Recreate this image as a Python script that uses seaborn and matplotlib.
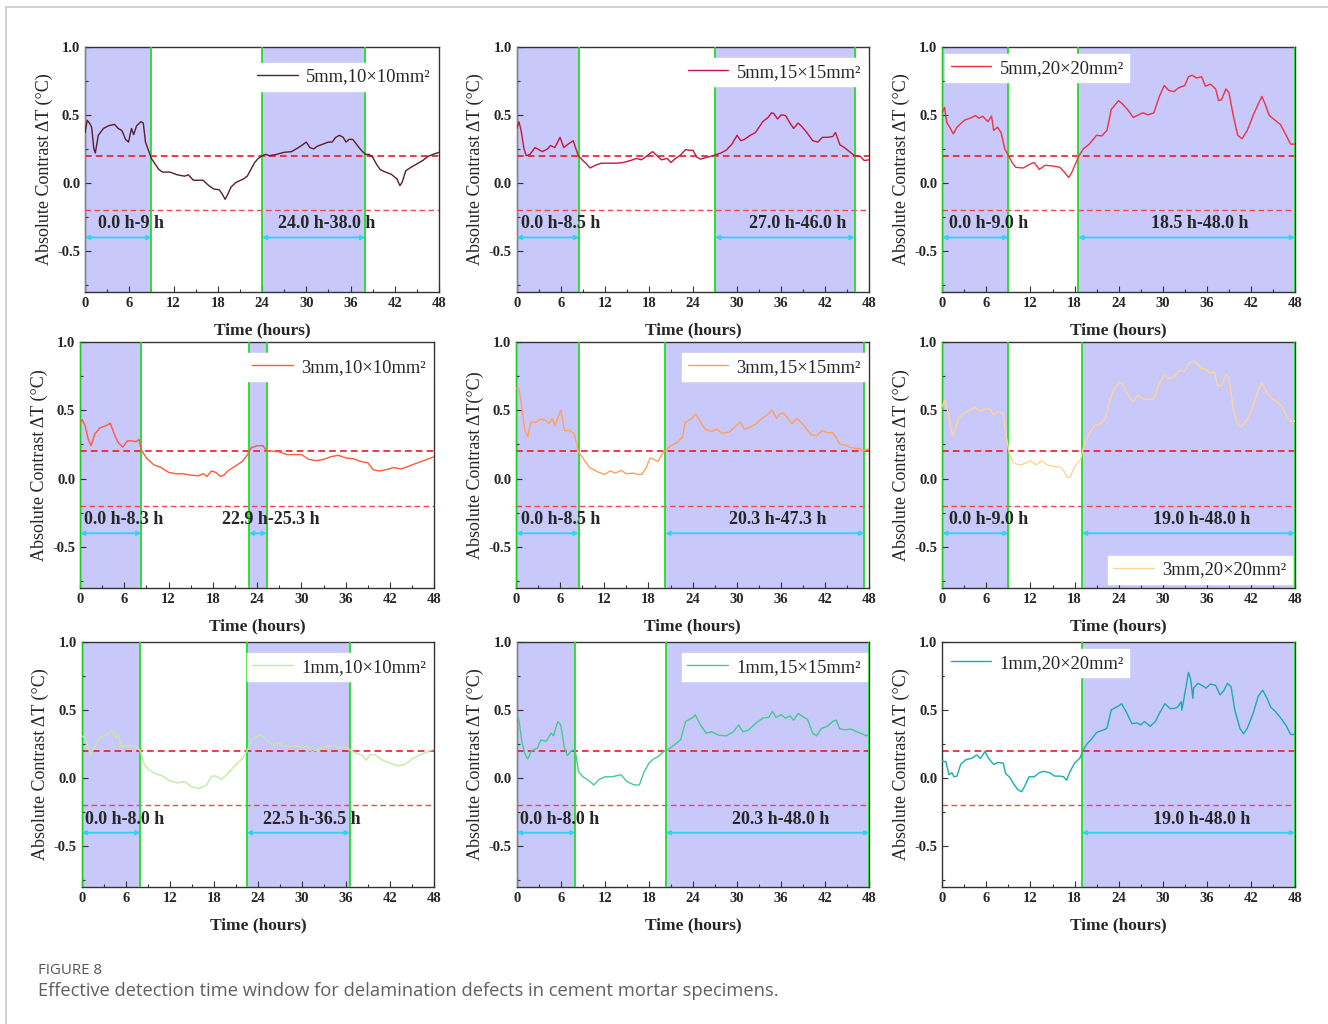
import numpy as np
import pandas as pd
import matplotlib
matplotlib.use("Agg")
import matplotlib.pyplot as plt
from matplotlib.lines import Line2D
from matplotlib.ticker import MultipleLocator, FixedLocator
import seaborn as sns

# ---------------------------------------------------------------- data
names = ["5mm,10\u00d710mm\u00b2", "5mm,15\u00d715mm\u00b2", "5mm,20\u00d720mm\u00b2",
         "3mm,10\u00d710mm\u00b2", "3mm,15\u00d715mm\u00b2", "3mm,20\u00d720mm\u00b2",
         "1mm,10\u00d710mm\u00b2", "1mm,15\u00d715mm\u00b2", "1mm,20\u00d720mm\u00b2"]

t_5_10 = [0, 0.3, 0.6, 0.9, 1.2, 1.4, 1.8, 2.5, 3.2, 4.0, 4.5, 5.0, 5.5, 5.9, 6.3, 6.6, 7.0, 7.6, 7.9, 8.2,
          8.6, 9.0, 9.5, 10, 10.5, 11.5, 12.5, 13.5, 14, 14.7, 15.5, 16, 16.8, 17.5, 18.2, 18.6, 19.0, 19.3,
          19.8, 20.5, 21.5, 22, 22.5, 23, 23.5, 24.0, 24.5, 25, 26, 27, 28, 28.8, 29.5, 30, 30.5, 31, 31.5,
          32, 32.5, 33, 33.5, 34, 34.5, 35, 35.4, 35.8, 36.3, 36.8, 37.3, 38, 38.5, 39, 39.5, 40, 40.5,
          41.5, 42.3, 42.7, 43.0, 43.5, 44.2, 45, 45.8, 46.5, 47.2, 48]
v_5_10 = [0.37, 0.46, 0.44, 0.41, 0.25, 0.22, 0.35, 0.40, 0.42, 0.43, 0.40, 0.385, 0.32, 0.30, 0.40, 0.355,
          0.42, 0.45, 0.44, 0.30, 0.24, 0.18, 0.14, 0.10, 0.08, 0.08, 0.06, 0.05, 0.06, 0.02, 0.02, 0.02,
          -0.02, -0.045, -0.05, -0.08, -0.12, -0.09, -0.03, 0.005, 0.03, 0.05, 0.10, 0.15, 0.18, 0.20, 0.21,
          0.20, 0.21, 0.225, 0.23, 0.255, 0.28, 0.30, 0.26, 0.25, 0.27, 0.28, 0.29, 0.30, 0.30, 0.335, 0.35,
          0.335, 0.30, 0.32, 0.32, 0.285, 0.25, 0.21, 0.21, 0.19, 0.14, 0.10, 0.085, 0.065, 0.03, -0.02,
          0.005, 0.09, 0.115, 0.14, 0.165, 0.195, 0.21, 0.225]

t_5_15 = [0, 0.3, 0.6, 1.0, 1.3, 1.8, 2.5, 3.5, 4.2, 4.6, 5.2, 5.9, 6.4, 7.0, 7.7, 8.0, 8.4, 9.0, 9.5, 10,
          10.7, 11.5, 12.5, 13.5, 14.5, 15.5, 16.3, 17, 18, 18.5, 19, 19.7, 20.5, 21, 21.5, 22.3, 23, 23.5,
          24, 24.5, 25, 26, 27, 27.8, 28.5, 29.3, 30, 30.5, 31, 31.8, 32.5, 33, 33.5, 34.2, 34.7, 35.0,
          35.5, 36.0, 36.6, 37.2, 37.7, 38.3, 38.8, 39.5, 40.3, 41, 41.6, 42.3, 43, 43.4, 44, 44.6, 45.3,
          46, 46.8, 47.3, 48]
v_5_15 = [0.40, 0.45, 0.385, 0.25, 0.20, 0.21, 0.26, 0.23, 0.25, 0.275, 0.26, 0.335, 0.26, 0.285, 0.31,
          0.26, 0.20, 0.165, 0.14, 0.11, 0.13, 0.145, 0.145, 0.145, 0.15, 0.165, 0.18, 0.17, 0.21, 0.23,
          0.205, 0.17, 0.18, 0.15, 0.175, 0.205, 0.245, 0.24, 0.24, 0.19, 0.175, 0.19, 0.205, 0.22, 0.24,
          0.285, 0.35, 0.31, 0.32, 0.35, 0.37, 0.41, 0.45, 0.48, 0.515, 0.51, 0.47, 0.50, 0.495, 0.44, 0.40,
          0.44, 0.415, 0.37, 0.31, 0.30, 0.335, 0.335, 0.34, 0.37, 0.28, 0.26, 0.23, 0.20, 0.195, 0.165, 0.17]

t_5_20 = [0, 0.3, 0.6, 1.0, 1.5, 2, 3, 4, 4.5, 5.0, 5.5, 6.2, 6.7, 7.0, 7.5, 8.0, 8.5, 9.0, 9.5, 10, 11,
          12, 12.5, 13.2, 14, 15, 16, 16.6, 17.2, 17.6, 18.2, 18.6, 19.2, 20, 21, 21.7, 22.4, 23, 24, 24.5,
          25.2, 26, 26.5, 27.3, 28, 28.8, 29.5, 30.2, 30.8, 31.5, 32.2, 33, 33.5, 34, 34.6, 35.3, 35.8,
          36.5, 37.2, 37.6, 38, 38.6, 39.0, 39.6, 40.2, 40.8, 41.5, 42.3, 43.0, 43.5, 44.0, 44.5, 45.3, 46,
          46.8, 47.4, 48]
v_5_20 = [0.52, 0.555, 0.445, 0.41, 0.36, 0.41, 0.46, 0.48, 0.495, 0.475, 0.49, 0.45, 0.49, 0.385, 0.41,
          0.37, 0.25, 0.20, 0.15, 0.115, 0.11, 0.14, 0.15, 0.10, 0.13, 0.125, 0.115, 0.08, 0.04, 0.075, 0.15,
          0.20, 0.25, 0.285, 0.35, 0.345, 0.385, 0.54, 0.605, 0.58, 0.54, 0.48, 0.495, 0.515, 0.50, 0.515,
          0.63, 0.715, 0.68, 0.67, 0.70, 0.715, 0.78, 0.79, 0.77, 0.78, 0.71, 0.725, 0.69, 0.605, 0.61, 0.69,
          0.665, 0.495, 0.35, 0.325, 0.385, 0.495, 0.58, 0.635, 0.57, 0.495, 0.46, 0.43, 0.35, 0.285, 0.285]

t_3_10 = [0, 0.3, 0.7, 1.1, 1.5, 2, 2.7, 3.5, 4.1, 4.6, 5.2, 5.8, 6.4, 7.0, 7.6, 8.0, 8.3, 9, 10, 11, 12,
          13, 14, 15, 16, 16.7, 17.2, 17.8, 18.4, 19.0, 19.5, 20, 21, 22, 22.7, 23.2, 24, 24.8, 25.3, 26,
          27, 28, 29, 30, 31, 32, 33, 34, 35, 36, 37, 38, 39, 39.7, 40.5, 41.5, 42.5, 43.5, 44.3, 45, 46,
          47, 48]
v_3_10 = [0.41, 0.43, 0.385, 0.29, 0.24, 0.325, 0.37, 0.385, 0.405, 0.33, 0.26, 0.23, 0.275, 0.275, 0.27,
          0.285, 0.21, 0.15, 0.10, 0.08, 0.045, 0.035, 0.035, 0.025, 0.02, 0.035, 0.015, 0.055, 0.045, 0.015,
          0.025, 0.055, 0.09, 0.125, 0.175, 0.225, 0.24, 0.24, 0.20, 0.20, 0.195, 0.175, 0.175, 0.175, 0.14,
          0.13, 0.14, 0.16, 0.17, 0.15, 0.145, 0.125, 0.115, 0.065, 0.055, 0.065, 0.08, 0.07, 0.085, 0.10,
          0.12, 0.14, 0.16]

t_3_15 = [0, 0.4, 0.8, 1.2, 1.6, 2.0, 2.8, 3.5, 4.2, 4.5, 4.9, 5.3, 5.7, 6.1, 6.6, 7.3, 7.9, 8.5, 9.2, 10,
          11, 12, 12.8, 13.5, 14.3, 15, 16, 16.5, 17.1, 17.7, 18.2, 18.7, 19.3, 19.8, 20.3, 21, 21.8, 22.6,
          23, 23.8, 24.4, 25, 25.7, 26.5, 27.3, 28, 29, 30, 30.5, 31, 31.8, 32.5, 33.3, 34, 34.8, 35.4,
          35.8, 36.3, 37, 37.5, 38.2, 39, 39.5, 40, 40.8, 41.6, 42.3, 43, 43.5, 44, 44.8, 45.5, 46.5, 47.3,
          48]
v_3_15 = [0.66, 0.655, 0.52, 0.35, 0.305, 0.41, 0.415, 0.435, 0.42, 0.40, 0.44, 0.385, 0.445, 0.50, 0.35,
          0.35, 0.33, 0.195, 0.14, 0.08, 0.05, 0.03, 0.055, 0.04, 0.06, 0.035, 0.04, 0.03, 0.03, 0.08, 0.15,
          0.14, 0.125, 0.175, 0.205, 0.24, 0.26, 0.30, 0.41, 0.435, 0.47, 0.42, 0.36, 0.345, 0.36, 0.33,
          0.34, 0.39, 0.415, 0.36, 0.375, 0.395, 0.435, 0.46, 0.50, 0.44, 0.47, 0.48, 0.435, 0.40, 0.44,
          0.395, 0.36, 0.325, 0.31, 0.35, 0.335, 0.335, 0.30, 0.25, 0.245, 0.225, 0.22, 0.205, 0.22]

t_3_20 = [0, 0.3, 0.7, 1.0, 1.4, 1.8, 2.3, 3, 3.8, 4.5, 5, 5.7, 6.4, 7, 7.6, 8.3, 8.7, 9.1, 9.6, 10.3, 11,
          12, 12.8, 13.5, 14.3, 15, 16, 16.5, 17.0, 17.4, 17.8, 18.3, 18.8, 19.3, 20, 20.8, 21.5, 22.2,
          22.8, 23.3, 24.1, 24.7, 25.3, 25.9, 26.6, 27.2, 28, 28.8, 29.5, 30.2, 30.8, 31.5, 32.3, 33, 33.5,
          34.1, 34.7, 35.2, 35.8, 36.4, 37, 37.5, 38, 38.6, 39, 39.6, 40.2, 40.7, 41.5, 42.3, 43, 43.5,
          44.1, 44.8, 45.5, 46.2, 47, 47.5, 48]
v_3_20 = [0.525, 0.575, 0.50, 0.415, 0.315, 0.365, 0.445, 0.48, 0.50, 0.52, 0.495, 0.505, 0.51, 0.465,
          0.49, 0.475, 0.305, 0.19, 0.12, 0.10, 0.105, 0.13, 0.10, 0.13, 0.10, 0.09, 0.085, 0.06, 0.01,
          0.01, 0.06, 0.11, 0.135, 0.245, 0.33, 0.39, 0.40, 0.44, 0.57, 0.65, 0.705, 0.68, 0.61, 0.56, 0.61,
          0.585, 0.575, 0.585, 0.69, 0.76, 0.73, 0.74, 0.79, 0.785, 0.84, 0.86, 0.84, 0.805, 0.80, 0.77,
          0.78, 0.675, 0.68, 0.76, 0.74, 0.51, 0.395, 0.38, 0.43, 0.53, 0.645, 0.70, 0.635, 0.585, 0.565,
          0.525, 0.44, 0.415, 0.42]

t_1_10 = [0, 0.4, 0.8, 1.2, 1.6, 2.2, 2.8, 3.5, 4.1, 4.6, 5.0, 5.4, 6, 6.8, 7.5, 8.0, 8.4, 9, 10, 11, 12,
          13, 14, 15, 16, 17, 17.7, 18.3, 19, 20, 21, 22, 22.5, 23.2, 24, 24.4, 25.2, 26, 26.8, 27.5, 28.3,
          29, 30, 30.7, 31.3, 32, 33, 34.2, 35, 36, 36.7, 37.5, 38.3, 38.7, 39.3, 40, 40.8, 42, 43, 44, 45,
          46, 47, 48]
v_1_10 = [0.31, 0.30, 0.25, 0.165, 0.21, 0.275, 0.305, 0.32, 0.355, 0.30, 0.315, 0.23, 0.235, 0.24, 0.23,
          0.20, 0.115, 0.065, 0.035, 0.015, -0.02, -0.035, -0.025, -0.065, -0.075, -0.05, 0.015, 0.015,
          -0.01, 0.04, 0.10, 0.15, 0.20, 0.285, 0.31, 0.32, 0.275, 0.245, 0.26, 0.24, 0.23, 0.24, 0.225,
          0.235, 0.195, 0.205, 0.23, 0.24, 0.225, 0.225, 0.20, 0.18, 0.165, 0.13, 0.175, 0.17, 0.135, 0.11,
          0.09, 0.10, 0.14, 0.17, 0.19, 0.215]

t_1_15 = [0, 0.3, 0.7, 1.1, 1.5, 2, 2.8, 3.3, 4.0, 4.7, 5.0, 5.6, 6.0, 6.5, 6.9, 7.4, 7.9, 8.1, 8.4, 9, 10,
          10.5, 11.2, 12, 13, 14.2, 15, 16, 16.7, 17.3, 18, 18.6, 19.3, 20, 20.6, 21.5, 22.3, 23, 24, 24.3,
          25, 25.8, 26.5, 27.5, 28.5, 29.5, 30.2, 30.8, 31.5, 32.5, 33.5, 34.3, 34.8, 35.3, 36, 36.6, 37.2,
          37.7, 38.3, 39, 39.6, 40.3, 40.8, 41.5, 42.3, 43, 43.5, 44, 44.8, 45.5, 46.3, 47, 47.6, 48]
v_1_15 = [0.475, 0.425, 0.27, 0.18, 0.14, 0.20, 0.22, 0.28, 0.27, 0.33, 0.31, 0.415, 0.39, 0.22, 0.165,
          0.20, 0.21, 0.16, 0.05, 0.01, -0.025, -0.05, -0.01, 0.01, 0.01, 0.025, -0.025, -0.05, -0.05, 0.04,
          0.11, 0.14, 0.16, 0.195, 0.21, 0.245, 0.28, 0.415, 0.445, 0.465, 0.39, 0.33, 0.34, 0.315, 0.31,
          0.34, 0.39, 0.34, 0.35, 0.40, 0.44, 0.445, 0.49, 0.445, 0.465, 0.44, 0.455, 0.425, 0.475, 0.45,
          0.43, 0.33, 0.31, 0.365, 0.38, 0.415, 0.425, 0.36, 0.355, 0.36, 0.34, 0.325, 0.31, 0.325]

t_1_20 = [0, 0.5, 0.9, 1.3, 1.6, 2.0, 2.5, 3.2, 4, 4.7, 5.2, 5.8, 6.3, 7, 7.6, 8.3, 8.6, 9.2, 9.8, 10.3,
          10.8, 11.2, 11.8, 12.5, 13.2, 13.8, 14.6, 15.3, 16, 16.5, 16.9, 17.4, 18, 18.7, 19.1, 19.6, 20.3,
          21, 22, 22.4, 23, 24, 24.4, 25, 25.8, 26.5, 27, 27.5, 28.3, 29, 29.6, 30.3, 31, 31.5, 32, 32.5,
          32.6, 32.8, 33.2, 33.5, 33.8, 34.1, 34.2, 34.8, 35.3, 35.9, 36.5, 37.2, 37.8, 38.3, 38.8, 39.3,
          39.8, 40.5, 41, 41.5, 42.3, 43, 43.6, 44.2, 44.7, 45.3, 46, 46.8, 47.4, 48]
v_1_20 = [0.125, 0.12, 0.025, 0.04, 0.01, 0.015, 0.10, 0.135, 0.145, 0.17, 0.145, 0.195, 0.145, 0.10,
          0.115, 0.11, 0.035, 0.005, -0.05, -0.085, -0.10, -0.06, 0.01, 0.01, 0.04, 0.05, 0.04, 0.015,
          0.015, 0.01, -0.015, 0.05, 0.11, 0.145, 0.195, 0.245, 0.285, 0.335, 0.355, 0.365, 0.50, 0.53,
          0.545, 0.49, 0.40, 0.405, 0.39, 0.415, 0.38, 0.415, 0.48, 0.545, 0.51, 0.51, 0.52, 0.56, 0.50,
          0.555, 0.68, 0.775, 0.725, 0.585, 0.66, 0.695, 0.68, 0.66, 0.69, 0.68, 0.61, 0.64, 0.695, 0.67,
          0.50, 0.365, 0.325, 0.365, 0.475, 0.60, 0.645, 0.585, 0.52, 0.49, 0.445, 0.385, 0.32, 0.32]

# effective detection windows (hours) and their labels
win_5_10 = [(0.0, 9.0), (24.0, 38.0)]
win_5_15 = [(0.0, 8.5), (27.0, 46.0)]
win_5_20 = [(0.0, 9.0), (18.5, 48.0)]
win_3_10 = [(0.0, 8.3), (22.9, 25.3)]
win_3_15 = [(0.0, 8.5), (20.3, 47.3)]
win_3_20 = [(0.0, 9.0), (19.0, 48.0)]
win_1_10 = [(0.0, 8.0), (22.5, 36.5)]
win_1_15 = [(0.0, 8.0), (20.3, 48.0)]
win_1_20 = [(19.0, 48.0)]

lab_5_10 = ["0.0 h-9 h", "24.0 h-38.0 h"]
lab_5_15 = ["0.0 h-8.5 h", "27.0 h-46.0 h"]
lab_5_20 = ["0.0 h-9.0 h", "18.5 h-48.0 h"]
lab_3_10 = ["0.0 h-8.3 h", "22.9 h-25.3 h"]
lab_3_15 = ["0.0 h-8.5 h", "20.3 h-47.3 h"]
lab_3_20 = ["0.0 h-9.0 h", "19.0 h-48.0 h"]
lab_1_10 = ["0.0 h-8.0 h", "22.5 h-36.5 h"]
lab_1_15 = ["0.0 h-8.0 h", "20.3 h-48.0 h"]
lab_1_20 = ["19.0 h-48.0 h"]

threshold = 0.2
x_ticks = [0, 6, 12, 18, 24, 30, 36, 42, 48]
y_ticks = [-0.5, 0.0, 0.5, 1.0]

# ---------------------------------------------------------------- style
sns.set_style("ticks")
plt.rcParams["font.family"] = ["Liberation Serif", "DejaVu Serif"]
plt.rcParams["mathtext.fontset"] = "stix"

W, H = 1328, 1024
fig = plt.figure(figsize=(W / 100, H / 100), dpi=100)
fig.patch.set_facecolor("white")

colors = ["#5A1E2C", "#C4163E", "#EC3242", "#FF5A3A", "#FFA05C",
          "#FFD596", "#C2EAA6", "#44CB8F", "#17ADB3"]

series = [(t_5_10, v_5_10, win_5_10, lab_5_10), (t_5_15, v_5_15, win_5_15, lab_5_15),
          (t_5_20, v_5_20, win_5_20, lab_5_20), (t_3_10, v_3_10, win_3_10, lab_3_10),
          (t_3_15, v_3_15, win_3_15, lab_3_15), (t_3_20, v_3_20, win_3_20, lab_3_20),
          (t_1_10, v_1_10, win_1_10, lab_1_10), (t_1_15, v_1_15, win_1_15, lab_1_15),
          (t_1_20, v_1_20, win_1_20, lab_1_20)]

# panel boxes in pixels: left, top, right, bottom
boxes = [(85, 46.7, 439, 292), (516.7, 46.7, 869.3, 292), (942.3, 46.7, 1295, 292),
         (80, 341.7, 434.3, 588), (516, 341.7, 869.3, 588), (942.3, 341.7, 1295, 588),
         (81.7, 641.7, 434.3, 887.3), (516.7, 641.7, 869.3, 887.3), (942.3, 641.7, 1295, 887.3)]

# legend placement: (loc, anchor in axes fraction)
legend_pos = [("upper right", (1.0, 0.945)), ("upper right", (1.0, 0.965)), ("upper left", (0.0, 0.98)),
              ("upper right", (1.0, 0.965)), ("upper right", (1.0, 0.965)), ("lower right", (1.0, 0.005)),
              ("upper right", (1.0, 0.965)), ("upper right", (1.0, 0.965)), ("upper left", (0.0, 0.98))]

ylabels = ["Absolute Contrast \u0394T (\u00b0C)"] * 9
ylabels[4] = "Absolute Contrast \u0394T(\u00b0C)"

span_color = "#C8C8FA"
edge_green = "#22DD22"
arrow_cyan = "#2FD3F2"

for i, (t, v, wins, labs) in enumerate(series):
    l, tp, r, b = boxes[i]
    ax = fig.add_axes([l / W, 1 - b / H, (r - l) / W, (b - tp) / H])
    wpx, hpx = r - l, b - tp

    for (s, e), lab in zip(wins, labs):
        ax.axvspan(s, e, color=span_color, lw=0, zorder=0)
        for xe in (s, e):
            ax.axvline(xe, color=edge_green, lw=1.3, zorder=3)
        ax.annotate("", xy=(s, -0.4), xytext=(e, -0.4),
                    arrowprops=dict(arrowstyle="<|-|>", color=arrow_cyan, lw=1.3,
                                    mutation_scale=6, shrinkA=0, shrinkB=0), zorder=4)
        ax.text((s + e) / 2 + 1.8, -0.30, lab, ha="center", va="center",
                fontsize=13, fontweight="bold", zorder=5)

    ax.axhline(threshold, color="#E41E26", lw=1.2, ls=(0, (4, 2.5)), zorder=2)
    ax.axhline(-threshold, color="#F2474C", lw=1.0, ls=(0, (4, 2.5)), zorder=2)

    df = pd.DataFrame({"t": t, "dT": v})
    sns.lineplot(data=df, x="t", y="dT", ax=ax, color=colors[i], lw=1.0,
                 label=names[i], zorder=6)

    loc, anchor = legend_pos[i]
    leg = ax.legend(loc=loc, bbox_to_anchor=anchor, fontsize=13.3, frameon=True,
                    fancybox=False, framealpha=1, edgecolor="white", facecolor="white",
                    handlelength=2.2, handletextpad=0.45, borderpad=0.3, borderaxespad=0.15)
    leg.set_zorder(7)

    ax.set_xlim(0, 48)
    ax.set_ylim(-0.8, 1.0)
    ax.xaxis.set_major_locator(FixedLocator(x_ticks))
    ax.xaxis.set_minor_locator(MultipleLocator(3))
    ax.yaxis.set_major_locator(FixedLocator(y_ticks))
    ax.yaxis.set_minor_locator(MultipleLocator(0.25))
    ax.set_xticklabels([str(x) for x in x_ticks])
    ax.set_yticklabels([f"{y:.1f}" for y in y_ticks])
    ax.tick_params(which="both", direction="in", top=False, right=False,
                   labelsize=10.5, pad=3.5, width=0.8, color="#333333")
    ax.tick_params(which="major", length=4)
    ax.tick_params(which="minor", length=2.2)
    for lbl in ax.get_xticklabels() + ax.get_yticklabels():
        lbl.set_fontweight("bold")
    for sp in ax.spines.values():
        sp.set_color("#333333")
        sp.set_linewidth(1.0)
        sp.set_visible(True)

    ax.set_xlabel("Time (hours)", fontsize=12.5, fontweight="bold")
    ax.xaxis.label.set_va("center")
    ax.xaxis.set_label_coords(0.5, -38 / hpx)
    ax.set_ylabel(ylabels[i], fontsize=13)
    ax.yaxis.label.set_va("center")
    ax.yaxis.set_label_coords(-41 / wpx, 0.5)

# page frame lines
fig.add_artist(Line2D([6 / W, 1], [1 - 7 / H, 1 - 7 / H], color="#C8C8C8", lw=1.2))
fig.add_artist(Line2D([6 / W, 6 / W], [0, 1 - 7 / H], color="#C8C8C8", lw=1.2))

fig.text(38 / W, 1 - 971 / H, "FIGURE 8", family=["Open Sans", "DejaVu Sans"],
         fontsize=10.8, color="#555555", va="center", ha="left")
fig.text(38 / W, 1 - 991 / H,
         "Effective detection time window for delamination defects in cement mortar specimens.",
         family=["Open Sans", "DejaVu Sans"], fontsize=13.2, color="#5f5f5f",
         va="center", ha="left")

fig.savefig("out.png", dpi=100)
